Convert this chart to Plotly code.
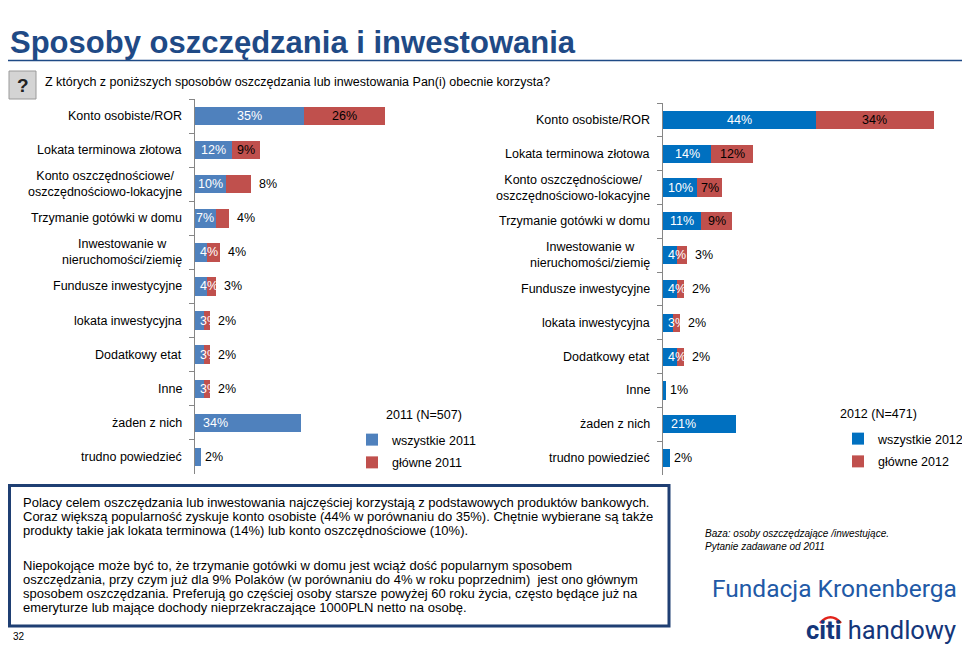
import plotly.graph_objects as go

# ---------------- data ----------------
categories = [
    "Konto osobiste/ROR",
    "Lokata terminowa złotowa",
    "Konto oszczędnościowe/<br>oszczędnościowo-lokacyjne",
    "Trzymanie gotówki w domu",
    "Inwestowanie w<br>nieruchomości/ziemię",
    "Fundusze inwestycyjne",
    "lokata inwestycyjna",
    "Dodatkowy etat",
    "Inne",
    "żaden z nich",
    "trudno powiedzieć",
]
all_2011 = [35, 12, 10, 7, 4, 4, 3, 3, 3, 34, 2]
main_2011 = [26, 9, 8, 4, 4, 3, 2, 2, 2, None, None]
all_2012 = [44, 14, 10, 11, 4, 4, 3, 4, 1, 21, 2]
main_2012 = [34, 12, 7, 9, 3, 2, 2, 2, None, None, None]

title_text = "Sposoby oszczędzania i inwestowania"
question_text = "Z których z poniższych sposobów oszczędzania lub inwestowania Pan(i) obecnie korzysta?"
paragraph_1 = [
    "Polacy celem oszczędzania lub inwestowania najczęściej korzystają z podstawowych produktów bankowych.",
    "Coraz większą popularność zyskuje konto osobiste (44% w porównaniu do 35%). Chętnie wybierane są także",
    "produkty takie jak lokata terminowa (14%) lub konto oszczędnościowe (10%).",
]
paragraph_2 = [
    "Niepokojące może być to, że trzymanie gotówki w domu jest wciąż dość popularnym sposobem",
    "oszczędzania, przy czym już dla 9% Polaków (w porównaniu do 4% w roku poprzednim)  jest ono głównym",
    "sposobem oszczędzania. Preferują go częściej osoby starsze powyżej 60 roku życia, często będące już na",
    "emeryturze lub mające dochody nieprzekraczające 1000PLN netto na osobę.",
]
base_lines = ["Baza: osoby oszczędzające /inwestujące.", "Pytanie zadawane od 2011"]

# ---------------- helpers ----------------
# the page body adds an 8px margin: page coordinates are converted with that
# offset (the figure simply runs 8px past the right edge of the window)
OFF = 8
W, H = 970, 645 - OFF
FONT = "Arial, Liberation Sans, sans-serif"
RED = "#C0504D"
AXIS_GREY = "#868686"


def px(x):
    return (x - OFF) / W


def py(y):
    return 1 - (y - OFF) / H


panels = [
    dict(all=all_2011, main=main_2011, year="2011", n="507", blue="#4F81BD",
         xa="x", ya="y", legend="legend", x0=194.5, scale=3.13, xmax=90,
         ytop=99, ybot=474, red_inside_min=9,
         leg_x=352, leg_y=425, head_x=384, head_y=415),
    dict(all=all_2012, main=main_2012, year="2012", n="471", blue="#0070C0",
         xa="x2", ya="y2", legend="legend2", x0=662.7, scale=3.475, xmax=82,
         ytop=103, ybot=475, red_inside_min=7,
         leg_x=838, leg_y=424, head_x=838, head_y=414),
]

fig = go.Figure()
annotations = []
shapes = []

for p in panels:
    fig.add_trace(go.Bar(
        y=categories, x=p["all"], orientation="h", name="wszystkie " + p["year"],
        marker=dict(color=p["blue"], line=dict(width=0)),
        xaxis=p["xa"], yaxis=p["ya"], legend=p["legend"],
        legendgroup="b" + p["year"], hoverinfo="x+y",
    ))
    fig.add_trace(go.Bar(
        y=categories, x=p["main"], orientation="h", name="główne " + p["year"],
        marker=dict(color=RED, line=dict(width=0)),
        xaxis=p["xa"], yaxis=p["ya"], legend=p["legend"],
        legendgroup="r" + p["year"], hoverinfo="x+y",
    ))

    # category labels (centred multi-line, right edge near the axis)
    for c in categories:
        annotations.append(dict(
            x=px(p["x0"] - 11), xref="paper", xanchor="right",
            y=c, yref=p["ya"], yanchor="middle",
            text=c, align="center", showarrow=False,
            font=dict(family=FONT, size=12.5, color="black"),
        ))

    # value labels
    for c, a, m in zip(categories, p["all"], p["main"]):
        lab = dict(xref=p["xa"], yref=p["ya"], y=c, yanchor="middle",
                   showarrow=False, text=f"{a}%")
        if m is None and a <= 2:
            lab.update(x=a, xanchor="left", xshift=2,
                       font=dict(family=FONT, size=12.5, color="black"))
        elif m is None:
            lab.update(x=0, xanchor="left", xshift=6,
                       font=dict(family=FONT, size=12.5, color="white"))
        elif a < 6:
            lab.update(x=0, xanchor="left", xshift=3,
                       font=dict(family=FONT, size=12.5, color="white"))
        else:
            lab.update(x=a / 2, xanchor="center",
                       font=dict(family=FONT, size=12.5, color="white"))
        annotations.append(lab)
        if m is not None:
            rl = dict(xref=p["xa"], yref=p["ya"], y=c, yanchor="middle",
                      showarrow=False, text=f"{m}%",
                      font=dict(family=FONT, size=12.5, color="black"))
            if m >= p["red_inside_min"]:
                rl.update(x=a + m / 2, xanchor="center")
            else:
                rl.update(x=a + m, xanchor="left", xshift=6)
            annotations.append(rl)

    # sample heading above the legend
    annotations.append(dict(
        x=px(p["head_x"]), y=py(p["head_y"]), xref="paper", yref="paper",
        xanchor="left", yanchor="middle", showarrow=False,
        text=f"{p['year']} (N={p['n']})",
        font=dict(family=FONT, size=12.5, color="black"),
    ))

# ---------------- axes ----------------
for p in panels:
    xkey = "xaxis" if p["xa"] == "x" else "xaxis2"
    ykey = "yaxis" if p["ya"] == "y" else "yaxis2"
    x_right = p["x0"] + p["xmax"] * p["scale"]
    fig.update_layout({
        xkey: dict(domain=[px(p["x0"]), px(x_right)], range=[0, p["xmax"]],
                   visible=False, anchor=p["ya"], fixedrange=True),
        ykey: dict(domain=[py(p["ybot"]), py(p["ytop"])], anchor=p["xa"],
                   type="category", categoryorder="array",
                   categoryarray=categories, autorange="reversed",
                   showline=True, linecolor=AXIS_GREY, linewidth=1,
                   ticks="outside", tickson="boundaries", ticklen=5,
                   tickcolor=AXIS_GREY, tickwidth=1,
                   showticklabels=False, showgrid=False, zeroline=False,
                   fixedrange=True),
    })

# ---------------- legends ----------------
for p in panels:
    fig.update_layout({
        p["legend"]: dict(
            x=px(p["leg_x"]), y=py(p["leg_y"]), xanchor="left", yanchor="top",
            font=dict(family=FONT, size=12.5, color="black"),
            bgcolor="rgba(0,0,0,0)", tracegroupgap=3.5, itemwidth=30,
            traceorder="grouped",
        )
    })

# ---------------- header ----------------
annotations.append(dict(
    x=px(8), y=py(42), xref="paper", yref="paper", xanchor="left", yanchor="middle",
    text="<b>" + title_text + "</b>", showarrow=False,
    font=dict(family=FONT, size=31, color="#1F4A86"),
))
shapes.append(dict(type="line", xref="paper", yref="paper",
                   x0=0, x1=1, y0=py(60.5), y1=py(60.5),
                   line=dict(color="#1F4A86", width=1.5)))
# question icon
shapes.append(dict(type="rect", xref="paper", yref="paper",
                   x0=px(9), x1=px(36), y0=py(99), y1=py(71),
                   fillcolor="#D4D4D4", line=dict(color="#9A9A9A", width=1)))
annotations.append(dict(
    x=px(22.5), y=py(85), xref="paper", yref="paper", xanchor="center", yanchor="middle",
    text="<b>?</b>", showarrow=False, font=dict(family=FONT, size=19, color="#222222"),
))
annotations.append(dict(
    x=px(43), y=py(82), xref="paper", yref="paper", xanchor="left", yanchor="middle",
    text=question_text, showarrow=False, font=dict(family=FONT, size=12.5, color="black"),
))

# ---------------- text box ----------------
shapes.append(dict(type="rect", xref="paper", yref="paper",
                   x0=px(9.5), x1=px(669), y0=py(626), y1=py(485.5),
                   line=dict(color="#1F3F73", width=3), fillcolor="rgba(0,0,0,0)"))
for start, lines in ((502.5, paragraph_1), (565, paragraph_2)):
    for i, t in enumerate(lines):
        annotations.append(dict(
            x=px(22), y=py(start + i * 14), xref="paper", yref="paper",
            xanchor="left", yanchor="middle", text=t, showarrow=False,
            borderpad=0, font=dict(family=FONT, size=13, color="black"),
        ))
annotations.append(dict(
    x=px(11), y=py(636), xref="paper", yref="paper", xanchor="left", yanchor="middle",
    text="32", showarrow=False, font=dict(family=FONT, size=10, color="black"),
))

# ---------------- footer right ----------------
for i, t in enumerate(base_lines):
    annotations.append(dict(
        x=px(703), y=py(533 + i * 13), xref="paper", yref="paper",
        xanchor="left", yanchor="middle", text="<i>" + t + "</i>", showarrow=False,
        font=dict(family=FONT, size=10, color="black"),
    ))
annotations.append(dict(
    x=px(959), y=py(588), xref="paper", yref="paper", xanchor="right", yanchor="middle",
    text="Fundacja Kronenberga", showarrow=False,
    font=dict(family="Roboto, sans-serif", size=24.5, color="#2159A6"),
))
annotations.append(dict(
    x=px(958), y=py(629.5), xref="paper", yref="paper", xanchor="right", yanchor="middle",
    text="<b>citi</b> handlowy", showarrow=False,
    font=dict(family="Roboto, sans-serif", size=25.5, color="#14367A"),
))
shapes.append(dict(type="path", xref="paper", yref="paper",
                   path=f"M {px(820)} {py(623)} Q {px(830.5)} {py(611.5)} {px(841)} {py(623)}",
                   line=dict(color="#E2231A", width=2.5)))

fig.update_layout(
    width=W, height=H,
    margin=dict(l=0, r=0, t=0, b=0),
    paper_bgcolor="white", plot_bgcolor="rgba(0,0,0,0)",
    barmode="stack", bargap=0.46,
    showlegend=True,
    annotations=annotations, shapes=shapes,
    font=dict(family=FONT, size=12.5, color="black"),
)

fig.write_html("out.html")
